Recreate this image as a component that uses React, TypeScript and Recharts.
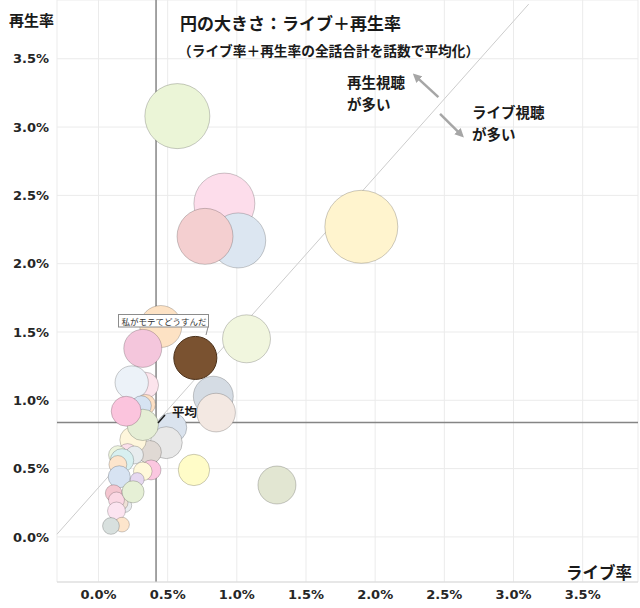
import {
  CartesianGrid,
  Cell,
  ReferenceLine,
  Scatter,
  ScatterChart,
  XAxis,
  YAxis,
  ZAxis,
} from "recharts";

// ライブ率 / 再生率 (%), 円の大きさ = ライブ＋再生率の平均
const liveRate = [
  1.9, 0.57, 0.91, 1.01, 0.77, 1.07, 0.45, 0.32, 0.7, 0.83, 0.85, 1.29, 0.69, 0.53, 0.49,
  0.34, 0.24, 0.34, 0.31, 0.37, 0.25, 0.32, 0.2, 0.21, 0.26, 0.14, 0.17, 0.14, 0.38, 0.32,
  0.28, 0.15, 0.19, 0.16, 0.11, 0.13, 0.25, 0.13, 0.17, 0.09,
];
const playRate = [
  2.27, 3.08, 2.44, 2.17, 2.2, 1.45, 1.54, 1.38, 1.31, 1.03, 0.91, 0.38, 0.49, 0.8, 0.69,
  1.11, 1.13, 0.97, 0.96, 0.62, 0.71, 0.82, 0.92, 0.61, 0.6, 0.6, 0.56, 0.53, 0.49, 0.48,
  0.42, 0.44, 0.23, 0.25, 0.32, 0.27, 0.33, 0.19, 0.09, 0.08,
];
const circleSize = [
  4.17, 3.31, 2.91, 2.37, 2.45, 1.8, 1.38, 1.13, 1.45, 1.25, 1.17, 1.13, 0.77, 0.7, 0.8,
  0.53, 0.87, 0.31, 0.31, 0.43, 0.55, 0.77, 0.7, 0.31, 0.25, 0.27, 0.43, 0.25, 0.31, 0.27,
  0.15, 0.38, 0.15, 0.17, 0.22, 0.2, 0.38, 0.25, 0.17, 0.22,
];
const bubbleColors = [
  "#fff4ce", "#ebf5d7", "#fdddeb", "#dce6f1", "#f4cfd0", "#f1f6de", "#fde2c4", "#f4c6dc",
  "#7a5230", "#d5dce4", "#f3e8e2", "#e2e6d2", "#fffcc8", "#dae3ee", "#e8e8e8", "#fce4ec",
  "#ecf2f8", "#fde0c4", "#d6e3f2", "#e0d9d4", "#fef6dc", "#e5eed5", "#fbc4dd", "#fbe0ea",
  "#e8ecee", "#eef5de", "#d8f0f0", "#fde5cc", "#fbc7e0", "#fff8da", "#e6d8f0", "#d7e3f2",
  "#e9ecef", "#eee0d6", "#f4c6d0", "#fbd8e4", "#e6f0d6", "#fce4f0", "#fde5cc", "#d8e0de",
];

const axisTicks = [0, 0.5, 1, 1.5, 2, 2.5, 3, 3.5];
const averageLive = 0.416;
const averagePlay = 0.838;
const diagonalLine = [
  { x: -0.3, y: 0.02 },
  { x: 3.11, y: 3.9 },
];
const arrowToPlay = [
  { x: 2.457, y: 3.219 },
  { x: 2.288, y: 3.377 },
];
const arrowToLive = [
  { x: 2.469, y: 3.097 },
  { x: 2.626, y: 2.939 },
];

const bubbles = liveRate.map((live, i) => ({ live, play: playRate[i], size: circleSize[i] }));

const tickStyle = { fill: "#262626", fontSize: 13, fontWeight: 700, fontFamily: "DejaVu Sans, sans-serif" };
const jp = "'Noto Sans CJK JP', sans-serif";

const arrowShape = (props: any) => (
  <line
    x1={props.x1}
    y1={props.y1}
    x2={props.x2}
    y2={props.y2}
    stroke="#a6a6a6"
    strokeWidth={2.5}
    markerEnd="url(#arrowHead)"
  />
);

export default function App() {
  return (
    <div style={{ position: "absolute", left: 0, top: 0, width: 640, height: 608, background: "#fff" }}>
      <svg width={0} height={0} style={{ position: "absolute" }}>
        <defs>
          <marker id="arrowHead" markerUnits="userSpaceOnUse" markerWidth={9} markerHeight={9} refX={6} refY={4.5} orient="auto">
            <path d="M0,0 L9,4.5 L0,9 z" fill="#a6a6a6" />
          </marker>
        </defs>
      </svg>
      <ScatterChart width={640} height={608} margin={{ top: 0, right: 2, bottom: 0, left: 0 }}>
        <CartesianGrid stroke="#ebebeb" />
        <XAxis
          type="number"
          dataKey="live"
          domain={[-0.3, 3.9]}
          ticks={axisTicks}
          allowDataOverflow
          height={26}
          tickLine={false}
          tickSize={0}
          tickMargin={8}
          stroke="#d9d9d9"
          tick={tickStyle}
          tickFormatter={(v: number) => `${v.toFixed(1)}%`}
        />
        <YAxis
          type="number"
          dataKey="play"
          domain={[-0.33, 3.93]}
          ticks={axisTicks}
          allowDataOverflow
          width={57}
          axisLine={false}
          tickLine={false}
          tickSize={0}
          tickMargin={8}
          tick={tickStyle}
          tickFormatter={(v: number) => `${v.toFixed(1)}%`}
        />
        <ZAxis type="number" dataKey="size" domain={[0, 4.17]} range={[0, Math.PI * 36.5 * 36.5]} />
        <ReferenceLine segment={diagonalLine} stroke="#cccccc" strokeWidth={1} ifOverflow="visible" />
        <ReferenceLine x={averageLive} stroke="#858585" strokeWidth={1.5} />
        <ReferenceLine y={averagePlay} stroke="#858585" strokeWidth={1.5} />
        <ReferenceLine segment={arrowToPlay} shape={arrowShape} />
        <ReferenceLine segment={arrowToLive} shape={arrowShape} />
        <Scatter data={bubbles} isAnimationActive={false} shape="circle">
          {bubbles.map((_, i) => (
            <Cell
              key={i}
              fill={bubbleColors[i]}
              stroke={i === 8 ? "#4a3019" : "rgba(0,0,0,0.2)"}
              strokeWidth={1}
            />
          ))}
        </Scatter>
      </ScatterChart>
      <svg width={640} height={608} style={{ position: "absolute", left: 0, top: 0, pointerEvents: "none" }}>
        <g fontFamily={jp} fontWeight={700} fill="#1a1a1a">
          <text x={9} y={26} fontSize={15}>再生率</text>
          <text x={566} y={579} fontSize={16.5}>ライブ率</text>
          <text x={180} y={29.5} fontSize={17}>円の大きさ：ライブ＋再生率</text>
          <text x={178} y={55.5} fontSize={13.7}>（ライブ率＋再生率の全話合計を話数で平均化）</text>
          <text x={347} y={88} fontSize={14.5}>
            <tspan x={347}>再生視聴</tspan>
            <tspan x={347} dy={21.5}>が多い</tspan>
          </text>
          <text x={472} y={118} fontSize={14.5}>
            <tspan x={472}>ライブ視聴</tspan>
            <tspan x={472} dy={21.5}>が多い</tspan>
          </text>
          <text x={172} y={417} fontSize={12.5}>平均</text>
        </g>
        <line x1={165} y1={415} x2={158} y2={423} stroke="#1a1a1a" strokeWidth={1.5} />
        <rect x={118.5} y={314.5} width={90} height={12.5} fill="#fff" stroke="#8c8c8c" strokeWidth={1} />
        <text x={121.5} y={324.5} fontSize={8.5} fontFamily={jp} fill="#333">私がモテてどうすんだ</text>
        <line x1={208} y1={327} x2={206} y2={335} stroke="#8c8c8c" strokeWidth={1} />
      </svg>
    </div>
  );
}
